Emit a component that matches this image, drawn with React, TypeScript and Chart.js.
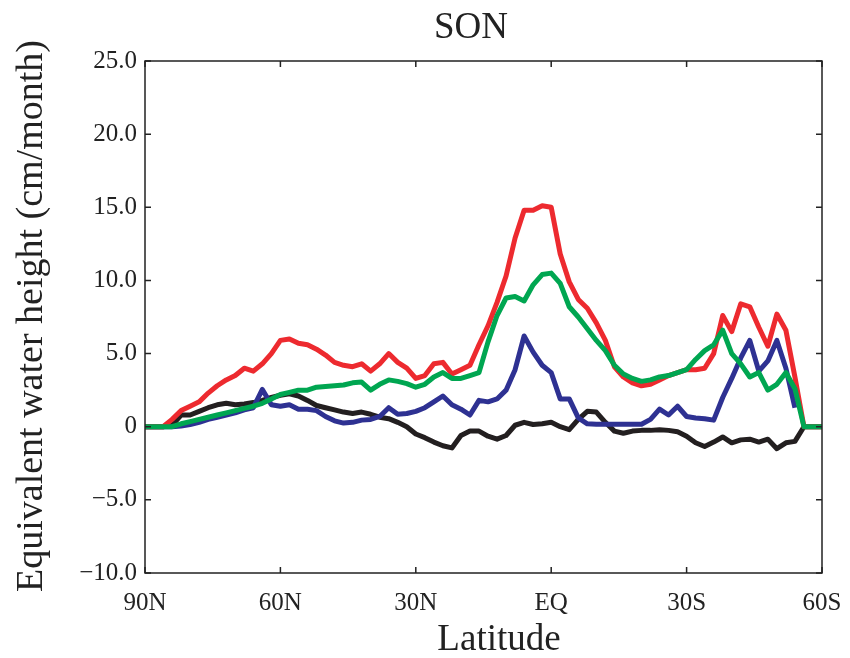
import React, { useEffect, useRef } from "react";
import { Chart, registerables } from "chart.js";

Chart.register(...registerables);

const LATS = [
  90, 88, 86, 84, 82, 80, 78, 76, 74, 72,
  70, 68, 66, 64, 62, 60, 58, 56, 54, 52,
  50, 48, 46, 44, 42, 40, 38, 36, 34, 32,
  30, 28, 26, 24, 22, 20, 18, 16, 14, 12,
  10, 8, 6, 4, 2, 0, -2, -4, -6, -8,
  -10, -12, -14, -16, -18, -20, -22, -24, -26, -28,
  -30, -32, -34, -36, -38, -40, -42, -44, -46, -48,
  -50, -52, -54, -56, -58, -60,
];

const RED = [
  0, 0, 0, 0.5, 1.1, 1.4, 1.7, 2.3, 2.8, 3.2,
  3.5, 4.0, 3.8, 4.3, 5.0, 5.9, 6.0, 5.7, 5.6, 5.3,
  4.9, 4.4, 4.2, 4.1, 4.3, 3.8, 4.3, 5.0, 4.4, 4.0,
  3.3, 3.5, 4.3, 4.4, 3.6, 3.9, 4.2, 5.6, 6.9, 8.5,
  10.3, 12.9, 14.8, 14.8, 15.1, 15.0, 11.8, 9.9, 8.7, 8.1,
  7.1, 5.9, 4.1, 3.4, 3.0, 2.8, 2.9, 3.2, 3.5, 3.7,
  3.9, 3.9, 4.0, 5.0, 7.6, 6.5, 8.4, 8.2, 6.8, 5.5,
  7.7, 6.6, 3.4, 0, 0, 0,
];

const GREEN = [
  0, 0, 0, 0, 0.2, 0.35, 0.5, 0.65, 0.8, 0.95,
  1.1, 1.25, 1.4, 1.6, 1.9, 2.2, 2.35, 2.5, 2.5, 2.7,
  2.75, 2.8, 2.85, 3.0, 3.05, 2.5, 2.9, 3.2, 3.1, 2.95,
  2.7, 2.9, 3.4, 3.7, 3.3, 3.3, 3.5, 3.7, 5.8, 7.6,
  8.8, 8.9, 8.6, 9.7, 10.4, 10.5, 9.8, 8.2, 7.5, 6.7,
  5.9, 5.2, 4.2, 3.6, 3.3, 3.1, 3.2, 3.4, 3.5, 3.7,
  3.9, 4.6, 5.2, 5.6, 6.6, 5.0, 4.3, 3.4, 3.7, 2.5,
  2.9, 3.7, 2.6, 0, 0, 0,
];

const BLUE = [
  0, 0, 0, 0, 0.05, 0.15, 0.3, 0.5, 0.65, 0.8,
  0.95, 1.15, 1.3, 2.55, 1.5, 1.4, 1.5, 1.2, 1.2, 1.1,
  0.7, 0.4, 0.25, 0.3, 0.45, 0.5, 0.7, 1.3, 0.85, 0.9,
  1.05, 1.3, 1.7, 2.1, 1.5, 1.2, 0.8, 1.8, 1.7, 1.9,
  2.5, 3.9, 6.2, 5.1, 4.2, 3.7, 1.9, 1.9, 0.6, 0.2,
  0.17, 0.17, 0.17, 0.17, 0.17, 0.17, 0.5, 1.2, 0.8, 1.4,
  0.7, 0.6, 0.55, 0.45, 2.0, 3.3, 4.7, 5.9, 3.8, 4.5,
  5.9, 4.0, 1.3, null, null, null,
];

const BLACK = [
  0, 0, 0, 0.1, 0.8, 0.8, 1.05, 1.3, 1.5, 1.6,
  1.5, 1.55, 1.65, 1.8, 2.0, 2.15, 2.25, 2.1, 1.8, 1.45,
  1.3, 1.15, 1.0, 0.9, 1.0, 0.85, 0.65, 0.55, 0.3, 0.0,
  -0.5, -0.75, -1.05, -1.3, -1.45, -0.6, -0.3, -0.3, -0.65, -0.85,
  -0.6, 0.1, 0.3, 0.15, 0.2, 0.3, 0.0, -0.2, 0.5, 1.05,
  1.0, 0.3, -0.3, -0.45, -0.3, -0.25, -0.25, -0.2, -0.25, -0.35,
  -0.65, -1.1, -1.35, -1.05, -0.7, -1.1, -0.9, -0.85, -1.05, -0.85,
  -1.5, -1.1, -1.0, 0, 0, 0,
];

const X_TICK_LABELS: Record<string, string> = {
  "90": "90N",
  "60": "60N",
  "30": "30N",
  "0": "EQ",
  "-30": "30S",
  "-60": "60S",
};

const TITLE = "SON";
const X_TITLE = "Latitude";
const Y_TITLE = "Equivalent water height (cm/month)";
const FONT = "'Liberation Serif', 'Times New Roman', serif";

const toPoints = (vals: (number | null)[]) =>
  LATS.map((lat, i) => ({ x: lat, y: vals[i] }));

const framePlugin = {
  id: "frame",
  afterDatasetsDraw(chart: any) {
    const { ctx, chartArea: a, scales } = chart;
    ctx.save();
    ctx.strokeStyle = "#222";
    ctx.lineWidth = 1.5;
    ctx.strokeRect(a.left, a.top, a.right - a.left, a.bottom - a.top);
    const tl = 6;
    ctx.beginPath();
    scales.y.ticks.forEach((t: any) => {
      const py = scales.y.getPixelForValue(t.value);
      ctx.moveTo(a.left, py);
      ctx.lineTo(a.left + tl, py);
      ctx.moveTo(a.right, py);
      ctx.lineTo(a.right - tl, py);
    });
    scales.x.ticks.forEach((t: any) => {
      const px = scales.x.getPixelForValue(t.value);
      ctx.moveTo(px, a.bottom);
      ctx.lineTo(px, a.bottom - tl);
      ctx.moveTo(px, a.top);
      ctx.lineTo(px, a.top + tl);
    });
    ctx.stroke();

    ctx.fillStyle = "#222";
    ctx.font = `37px ${FONT}`;
    ctx.textAlign = "center";
    ctx.textBaseline = "alphabetic";
    ctx.fillText(TITLE, 471, 38);
    ctx.fillText(X_TITLE, 499, 650);
    ctx.font = `38px ${FONT}`;
    ctx.translate(42, 316);
    ctx.rotate(-Math.PI / 2);
    ctx.fillText(Y_TITLE, 0, 0);
    ctx.restore();
  },
};

export default function App() {
  const ref = useRef<HTMLCanvasElement | null>(null);

  useEffect(() => {
    document.body.style.margin = "0";
    if (!ref.current) return;
    const ds = (label: string, vals: (number | null)[], color: string) => ({
      label,
      data: toPoints(vals),
      borderColor: color,
      backgroundColor: color,
      borderWidth: 5,
      pointRadius: 0,
      tension: 0,
      fill: false,
      spanGaps: false,
      borderJoinStyle: "round" as const,
      borderCapStyle: "butt" as const,
    });
    const chart = new Chart(ref.current, {
      type: "line",
      data: {
        datasets: [
          ds("Green", GREEN, "#00A651"),
          ds("Red", RED, "#ED2A2F"),
          ds("Blue", BLUE, "#2E3192"),
          ds("Black", BLACK, "#231F20"),
        ],
      },
      options: {
        animation: false,
        responsive: false,
        devicePixelRatio: 1,
        layout: { padding: { top: 61, right: 28, left: 0, bottom: 0 } },
        plugins: {
          legend: { display: false },
          tooltip: { enabled: false },
          title: { display: false },
        },
        scales: {
          x: {
            type: "linear",
            min: -60,
            max: 90,
            reverse: true,
            grid: { display: false, drawTicks: false },
            border: { display: false },
            ticks: {
              stepSize: 30,
              autoSkip: false,
              maxRotation: 0,
              padding: 15,
              color: "#222",
              font: { family: FONT, size: 25 },
              callback: (v: any) => X_TICK_LABELS[String(v)] ?? "",
            },
            afterFit: (s: any) => {
              s.height = 85;
              s.paddingLeft = 0;
              s.paddingRight = 0;
            },
          },
          y: {
            type: "linear",
            min: -10,
            max: 25,
            grid: { display: false, drawTicks: false },
            border: { display: false },
            ticks: {
              stepSize: 5,
              padding: 8,
              color: "#222",
              font: { family: FONT, size: 25 },
              callback: (v: any) =>
                v === 0
                  ? "0"
                  : v < 0
                  ? "\u2212" + Math.abs(v).toFixed(1)
                  : Number(v).toFixed(1),
            },
            afterFit: (s: any) => {
              s.width = 145;
              s.paddingTop = 0;
              s.paddingBottom = 0;
            },
          },
        },
      },
      plugins: [framePlugin],
    });
    return () => chart.destroy();
  }, []);

  return (
    <div style={{ width: 850, height: 658, background: "#fff" }}>
      <canvas ref={ref} width={850} height={658} style={{ display: "block" }} />
    </div>
  );
}
